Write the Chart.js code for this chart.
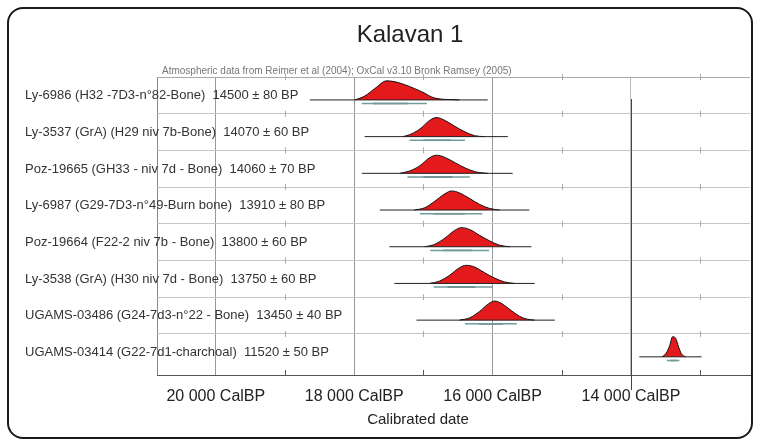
<!DOCTYPE html>
<html>
<head>
<meta charset="utf-8">
<script src="https://cdn.jsdelivr.net/npm/chart.js@4/dist/chart.umd.min.js"></script>
<style>
  html, body { margin: 0; padding: 0; background: #fff; }
  #wrap { position: relative; width: 758px; height: 442px; }
  #frame { position: absolute; left: 7px; top: 7px; width: 742px; height: 428px; border: 2px solid #1a1a1a; border-radius: 16px; pointer-events: none; }
  canvas { position: absolute; left: 0; top: 0; }
</style>
</head>
<body>
<div id="wrap">
  <canvas id="myChart" width="758" height="442"></canvas>
  <div id="frame"></div>
</div>
<script>
'use strict';

//data
var chartTitle = 'Kalavan 1';
var subTitle = 'Atmospheric data from Reimer et al (2004); OxCal v3.10 Bronk Ramsey (2005)';
var axisTitle = 'Calibrated date';

var sampleNames = [
  'Ly-6986 (H32 -7D3-n°82-Bone)',
  'Ly-3537 (GrA) (H29 niv 7b-Bone)',
  'Poz-19665 (GH33 - niv 7d - Bone)',
  'Ly-6987 (G29-7D3-n°49-Burn bone)',
  'Poz-19664 (F22-2 niv 7b - Bone)',
  'Ly-3538 (GrA) (H30 niv 7d - Bone)',
  'UGAMS-03486 (G24-7d3-n°22 - Bone)',
  'UGAMS-03414 (G22-7d1-charchoal)'
];
var bpValues = [14500, 14070, 14060, 13910, 13800, 13750, 13450, 11520];
var bpErrors = [80, 60, 70, 80, 60, 60, 40, 50];

// calibrated curves: [cal BP, relative probability]
var curve1 = [[17990, 0], [17850, 0.2], [17700, 0.6], [17530, 1], [17410, 0.95], [17270, 0.8], [17130, 0.6], [16980, 0.35], [16880, 0.15], [16760, 0.05], [16620, 0.02], [16480, 0]];
var curve2 = [[17300, 0], [17200, 0.1], [17050, 0.4], [16910, 0.85], [16810, 1], [16690, 0.85], [16550, 0.55], [16400, 0.25], [16260, 0.05], [16120, 0]];
var curve3 = [[17340, 0], [17200, 0.12], [17050, 0.4], [16910, 0.82], [16810, 0.95], [16680, 0.82], [16530, 0.53], [16390, 0.27], [16250, 0.08], [16070, 0]];
var curve4 = [[17130, 0], [16980, 0.12], [16840, 0.45], [16690, 0.85], [16590, 1], [16480, 0.9], [16330, 0.6], [16190, 0.3], [16040, 0.08], [15900, 0]];
var curve5 = [[16980, 0], [16840, 0.12], [16690, 0.45], [16550, 0.85], [16450, 1], [16330, 0.9], [16190, 0.6], [16040, 0.3], [15900, 0.08], [15750, 0]];
var curve6 = [[16910, 0], [16770, 0.12], [16620, 0.43], [16480, 0.82], [16380, 0.95], [16260, 0.86], [16120, 0.57], [15970, 0.28], [15830, 0.08], [15680, 0]];
var curve7 = [[16480, 0], [16330, 0.12], [16190, 0.45], [16060, 0.85], [15970, 1], [15860, 0.85], [15730, 0.5], [15610, 0.2], [15500, 0.05], [15390, 0]];
var curve8 = [[13550, 0], [13490, 0.2], [13440, 0.6], [13400, 1.05], [13360, 1], [13310, 0.5], [13270, 0.15], [13210, 0]];
var curves = [curve1, curve2, curve3, curve4, curve5, curve6, curve7, curve8];

// black base line under each curve
var baseRanges = [[18640, 16070], [17850, 15780], [17890, 15710], [17630, 15470], [17490, 15440], [17420, 15390], [17100, 15100], [13880, 12980]];
// 95% and 68% ranges
var range95 = [[17890, 16950], [17200, 16400], [17230, 16330], [17050, 16150], [16900, 16050], [16850, 16000], [16400, 15650], [13480, 13300]];
var range68 = [[17730, 17230], [17000, 16600], [17000, 16580], [16850, 16400], [16720, 16300], [16650, 16250], [16200, 15850], [13430, 13340]];

var xMin = 12280;
var xMax = 20850;
var tickValues = [20000, 18000, 16000, 14000];
var tickLabels = ['20 000 CalBP', '18 000 CalBP', '16 000 CalBP', '14 000 CalBP'];
var minorValues = [19000, 17000, 15000, 13000];
var markerValue = 14000;

var FONT = '"Liberation Sans", Arial, sans-serif';
var ROWS = sampleNames.length;
var BASE_OFF = 0.625;
var PEAK = 0.52;

//datasets
var datasets = [];
for (var i = 0; i < ROWS; i++) {
  var base = i + BASE_OFF;
  datasets.push({
    data: baseRanges[i].map(function(v) { return { x: v, y: base }; }),
    borderColor: '#222', borderWidth: 1, pointRadius: 0, showLine: true, fill: false
  });
  datasets.push({
    data: curves[i].map(function(p) { return { x: p[0], y: base - p[1] * PEAK }; }),
    borderColor: '#111', borderWidth: 1, backgroundColor: '#e3191b',
    pointRadius: 0, showLine: true, fill: { value: base }, cubicInterpolationMode: 'monotone'
  });
  datasets.push({
    data: range95[i].map(function(v) { return { x: v, y: base + 0.1 }; }),
    borderColor: '#6f9c9c', borderWidth: 1.5, pointRadius: 0, showLine: true, fill: false
  });
  datasets.push({
    data: range68[i].map(function(v) { return { x: v, y: base + 0.1 }; }),
    borderColor: '#555', borderWidth: 1.5, pointRadius: 0, showLine: true, fill: false
  });
}

var decor = {
  id: 'decor',
  afterDraw: function(chart) {
    var c = chart.ctx;
    var xs = chart.scales.x;
    var ys = chart.scales.y;
    var area = chart.chartArea;
    c.save();

    // minor ticks on the row lines and axis
    c.lineWidth = 1;
    minorValues.forEach(function(v) {
      var px = Math.round(xs.getPixelForValue(v)) + 0.5;
      c.strokeStyle = '#aaa';
      for (var r = 0; r < ROWS; r++) {
        var py = ys.getPixelForValue(r);
        c.beginPath(); c.moveTo(px, py - 3); c.lineTo(px, py + 3); c.stroke();
      }
      c.strokeStyle = '#555';
      c.beginPath(); c.moveTo(px, area.bottom - 5); c.lineTo(px, area.bottom); c.stroke();
    });

    // marker line
    var mx = Math.round(xs.getPixelForValue(markerValue)) + 0.5;
    c.strokeStyle = '#444';
    c.beginPath(); c.moveTo(mx, ys.getPixelForValue(0.6)); c.lineTo(mx, area.bottom + 15); c.stroke();

    // title and notes
    c.fillStyle = '#222';
    c.font = '24px ' + FONT;
    c.textAlign = 'center';
    c.textBaseline = 'middle';
    c.fillText(chartTitle, 410, 35);

    c.fillStyle = '#777';
    c.font = '10px ' + FONT;
    c.textAlign = 'left';
    c.textBaseline = 'alphabetic';
    c.fillText(subTitle, 162, 74);

    // row labels
    c.fillStyle = '#333';
    c.font = '13px ' + FONT;
    c.textBaseline = 'middle';
    for (var i = 0; i < ROWS; i++) {
      var txt = sampleNames[i] + '  ' + bpValues[i] + ' \u00b1 ' + bpErrors[i] + ' BP';
      c.fillText(txt, 25, ys.getPixelForValue(i + 0.51));
    }

    c.fillStyle = '#222';
    c.font = '15px ' + FONT;
    c.textAlign = 'center';
    c.fillText(axisTitle, 418, 420);
    c.restore();
  }
};

var ctx = document.getElementById('myChart').getContext('2d');
var chart = new Chart(ctx, {
  type: 'scatter',
  data: { datasets: datasets },
  plugins: [decor],
  options: {
    responsive: false,
    animation: false,
    layout: { padding: { left: 157, right: 8, top: 77, bottom: 37 } },
    plugins: { legend: { display: false }, tooltip: { enabled: false } },
    scales: {
      x: {
        type: 'linear',
        reverse: true,
        min: xMin,
        max: xMax,
        afterBuildTicks: function(scale) {
          scale.ticks = [xMax].concat(tickValues).map(function(v) { return { value: v }; });
        },
        afterFit: function(scale) { scale.height = 30; },
        border: { display: true, color: '#555', width: 1 },
        grid: {
          drawTicks: false,
          color: function(c) {
            var v = c.tick && c.tick.value;
            if (v === xMax) return '#888';
            if (v === markerValue) return '#bbb';
            return '#999';
          }
        },
        ticks: {
          autoSkip: false,
          maxRotation: 0,
          padding: 12,
          color: '#222',
          font: { family: FONT, size: 16 },
          callback: function(v) {
            var k = tickValues.indexOf(v);
            return k >= 0 ? tickLabels[k] : '';
          }
        }
      },
      y: {
        type: 'linear',
        reverse: true,
        min: 0,
        max: 8.12,
        afterFit: function(scale) { scale.width = 0; },
        border: { display: false },
        grid: {
          drawTicks: false,
          color: function(c) {
            var v = c.tick && c.tick.value;
            if (v === 0) return '#aaa';
            if (v > 0 && v < ROWS) return '#c4c4c4';
            return 'rgba(0,0,0,0)';
          }
        },
        ticks: { display: false, stepSize: 1 }
      }
    }
  }
});
</script>
</body>
</html>
